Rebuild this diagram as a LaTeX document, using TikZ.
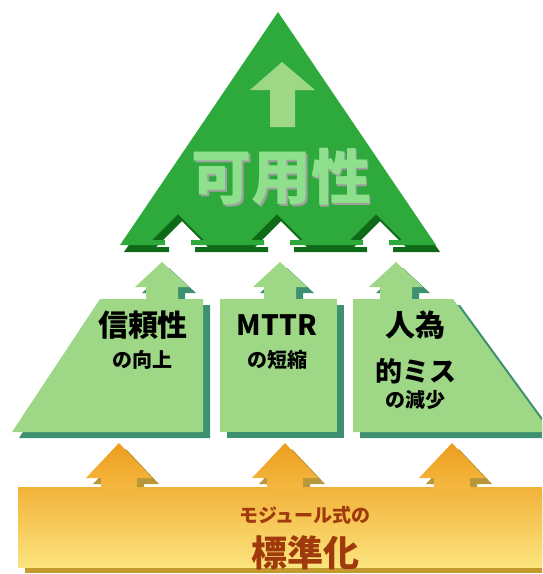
\documentclass[tikz,border=0pt]{standalone}
\usepackage{fontspec}
\newfontfamily\jp{Noto Sans CJK JP}
\definecolor{trigreen}{HTML}{2EAA3C}
\definecolor{tridark}{HTML}{0F6A18}
\definecolor{lgreen}{HTML}{9ED886}
\definecolor{teal}{HTML}{3D9070}
\definecolor{toptext}{HTML}{8EE08C}
\definecolor{orshadow}{HTML}{B8963A}
\definecolor{barshadow}{HTML}{C29A2E}
\definecolor{brown}{HTML}{A03A0C}
\tikzset{
  midtxt/.style={font={\jp\bfseries\fontsize{30}{30}\selectfont}, inner sep=0pt, text=black},
  latintxt/.style={font={\jp\bfseries\fontsize{28}{28}\selectfont}, inner sep=0pt, text=black},
  kanatxt/.style={font={\jp\bfseries\fontsize{27}{27}\selectfont}, inner sep=0pt, text=black},
  subtxt/.style={font={\jp\bfseries\fontsize{20}{20}\selectfont}, inner sep=0pt, text=black},
  toptxt/.style={font={\jp\bfseries\fontsize{60}{60}\selectfont}, inner sep=0pt},
  bartxt/.style={font={\jp\bfseries\fontsize{19}{19}\selectfont}, inner sep=0pt, text=brown},
  bigtxt/.style={font={\jp\bfseries\fontsize{36}{36}\selectfont}, inner sep=0pt, text=brown},
}
\begin{document}
\begin{tikzpicture}[x=1pt,y=-1pt]
\clip (0,0) rectangle (542,574);
\fill[white] (0,0) rectangle (542,574);
% ---------- shadows ----------
\begin{scope}[shift={(4,7)}]
  \fill[tridark] (120,245)
    -- (165,245) -- (165,240) -- (152,240) -- (178,214) -- (204,240) -- (191,240) -- (191,245)
    -- (264,245) -- (264,240) -- (251,240) -- (277,214) -- (303,240) -- (290,240) -- (290,245)
    -- (363,245) -- (363,240) -- (350,240) -- (376,214) -- (402,240) -- (389,240) -- (389,245)
    -- (436,245) -- (278,14) -- cycle;
\end{scope}
\begin{scope}[shift={(7,6)}]
  \foreach \c in {162,280,396}
    \fill[teal] ({\c-16},300) -- ({\c-16},287) -- ({\c-27},287) -- (\c,262) -- ({\c+27},287) -- ({\c+16},287) -- ({\c+16},300) -- cycle;
  \fill[teal] (100,299) -- (203,299) -- (203,432) -- (12,432) -- cycle;
  \fill[teal] (220,299) -- (337,299) -- (337,432) -- (220,432) -- cycle;
  \fill[teal] (353,299) -- (453,299) -- (550,432) -- (353,432) -- cycle;
  \foreach \c in {119,285,452}
    \fill[orshadow] ({\c-18},488) -- ({\c-18},478) -- ({\c-33},478) -- (\c,443) -- ({\c+33},478) -- ({\c+18},478) -- ({\c+18},488) -- cycle;
  \fill[barshadow] (18,487) rectangle (560,567);
\end{scope}
% ---------- main shapes ----------
\fill[trigreen] (120,245)
    -- (165,245) -- (165,240) -- (152,240) -- (178,214) -- (204,240) -- (191,240) -- (191,245)
    -- (264,245) -- (264,240) -- (251,240) -- (277,214) -- (303,240) -- (290,240) -- (290,245)
    -- (363,245) -- (363,240) -- (350,240) -- (376,214) -- (402,240) -- (389,240) -- (389,245)
    -- (436,245) -- (278,12) -- cycle;
% arrow inside triangle
\fill[lgreen] (270,127) -- (270,90) -- (250,90) -- (282,62) -- (315,90) -- (295,90) -- (295,127) -- cycle;
% light green arrows
\foreach \c in {162,280,396}
  \fill[lgreen] ({\c-16},300) -- ({\c-16},287) -- ({\c-27},287) -- (\c,262) -- ({\c+27},287) -- ({\c+16},287) -- ({\c+16},300) -- cycle;
% blocks
\fill[lgreen] (100,299) -- (203,299) -- (203,432) -- (12,432) -- cycle;
\fill[lgreen] (220,299) -- (337,299) -- (337,432) -- (220,432) -- cycle;
\fill[lgreen] (353,299) -- (453,299) -- (550,432) -- (353,432) -- cycle;
% bar
\shade[top color={rgb,255:red,242;green,178;blue,58}, bottom color={rgb,255:red,252;green,228;blue,126}] (18,487) rectangle (560,567);
% orange arrows
\foreach \c in {119,285,452}
  \shade[top color={rgb,255:red,237;green,157;blue,30}, bottom color={rgb,255:red,244;green,184;blue,64}]
    ({\c-18},489) -- ({\c-18},478) -- ({\c-33},478) -- (\c,443) -- ({\c+33},478) -- ({\c+18},478) -- ({\c+18},489) -- cycle;
% ---------- texts ----------
\node[toptxt, text={rgb,255:red,160;green,160;blue,160}] (availshadow) at (283,179) {可用性};
\node[toptxt, text=toptext] (avail) at (281,177) {可用性};
\node[midtxt] (rel) at (143,325) {信頼性};
\node[subtxt] (relsub) at (142,360) {の向上};
\node[latintxt] (mttr) at (277,325) {MTTR};
\node[subtxt] (mttrsub) at (277,360) {の短縮};
\node[midtxt] (human) at (415,325) {人為};
\node[kanatxt] (humanb) at (416,371) {的ミス};
\node[subtxt] (humansub) at (415,400) {の減少};
\node[bartxt] (mod) at (305,515) {モジュール式の};
\node[bigtxt] (std) at (305,553) {標準化};
\end{tikzpicture}
\end{document}
